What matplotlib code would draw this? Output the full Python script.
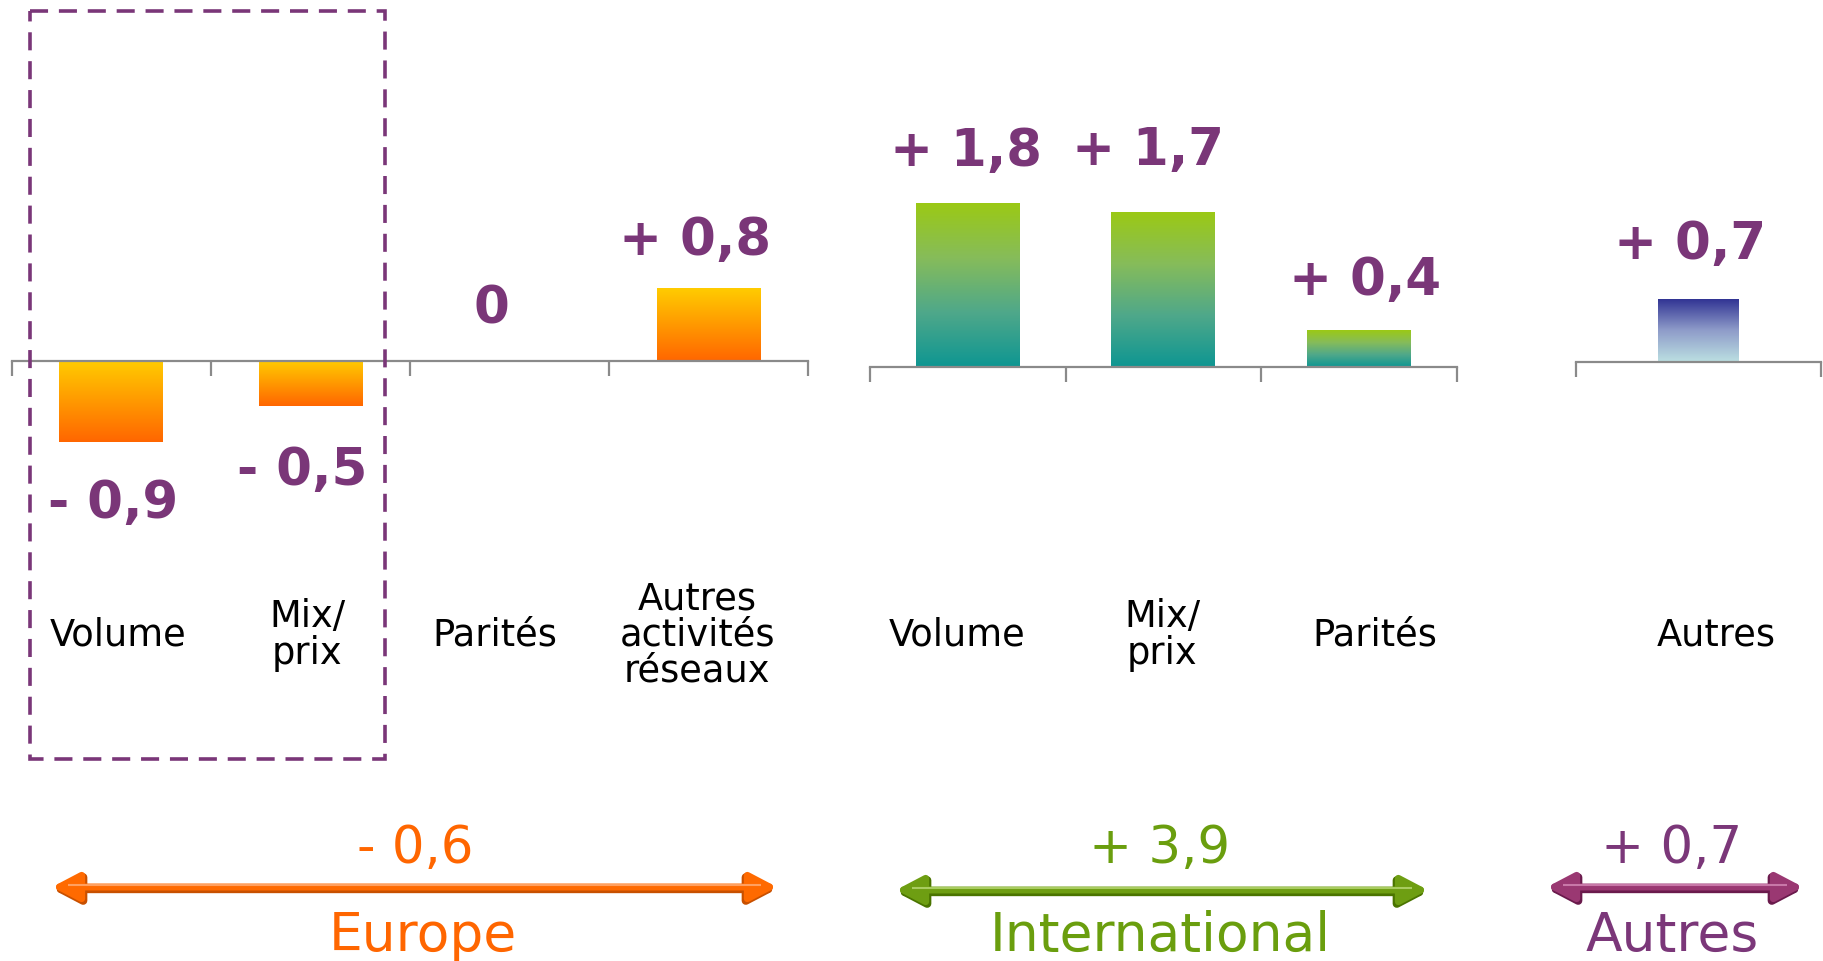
import numpy as np
import matplotlib.pyplot as plt
from matplotlib.colors import LinearSegmentedColormap
from matplotlib.patches import Rectangle, FancyArrowPatch

# Données (variations par zone)
cat_europe = ["Volume", "Mix/\nprix", "Parités", "Autres\nactivités\nréseaux"]
val_europe = [-0.9, -0.5, 0.0, 0.8]
lab_europe = ["- 0,9", "- 0,5", "0", "+ 0,8"]

cat_inter = ["Volume", "Mix/\nprix", "Parités"]
val_inter = [1.8, 1.7, 0.4]
lab_inter = ["+ 1,8", "+ 1,7", "+ 0,4"]

cat_autres = ["Autres"]
val_autres = [0.7]
lab_autres = ["+ 0,7"]

groupes = ["Europe", "International", "Autres"]
totaux = ["- 0,6", "+ 3,9", "+ 0,7"]

# Mise en page (pixels)
W, H = 1824, 962
scale = 90.7  # pixels par unité
violet = "#7A3678"
gris = "#8a8a8a"

grad_orange = ["#FFCC00", "#FF9900", "#FF6600"]
grad_vert = ["#9BC915", "#86BC5A", "#4FA88A", "#0E9692"]
grad_bleu = ["#2E3192", "#8E9BC9", "#BCE0E2"]

fig = plt.figure(figsize=(W / 100, H / 100), dpi=100)


def panneau(left, right, base, cats, vals, labs, largeur, couleurs, off_val, dx_cat):
    ax = fig.add_axes([left / W, 0, (right - left) / W, 1])
    n = len(cats)
    x = np.arange(n)
    bars = ax.bar(x, vals, width=largeur, color="none", edgecolor="none")
    cmap = LinearSegmentedColormap.from_list("g", couleurs)
    grad = np.linspace(0, 1, 256).reshape(-1, 1)
    for b, v in zip(bars, vals):
        if v == 0:
            continue
        x0, y0, w, h = b.get_x(), b.get_y(), b.get_width(), b.get_height()
        im = ax.imshow(grad, cmap=cmap, aspect="auto", origin="upper",
                       extent=[x0, x0 + w, min(y0, y0 + h), max(y0, y0 + h)], zorder=2)
        im.set_clip_path(b)
    # étiquettes de valeur (décalage en pixels)
    for xi, v, t, d in zip(x, vals, labs, off_val):
        ax.annotate(t, (xi, v), xytext=d, textcoords="offset pixels",
                    ha="center", va="center", fontsize=37, fontweight="bold", color=violet)
    for xi, c, d in zip(x, cats, dx_cat):
        ax.text(xi + d, 1 - 635 / H, c, transform=ax.get_xaxis_transform(),
                ha="center", va="center", fontsize=26.5, linespacing=0.97, color="black")
    ax.set_xlim(-0.5, n - 0.5)
    ax.set_ylim(-(H - base) / scale, base / scale)
    for s in ["top", "left", "right"]:
        ax.spines[s].set_visible(False)
    ax.spines["bottom"].set_position(("data", 0))
    ax.spines["bottom"].set_color(gris)
    ax.spines["bottom"].set_linewidth(1.6)
    ax.set_xticks(np.arange(n + 1) - 0.5)
    ax.set_xticklabels([])
    ax.tick_params(axis="x", direction="out", length=11, width=1.6, color=gris)
    ax.set_yticks([])
    ax.patch.set_alpha(0)
    return ax


panneau(11.6, 808.5, 361.8, cat_europe, val_europe, lab_europe, 0.52, grad_orange,
        [(2, -61), (-8, -64), (-18, 52), (-14, 48)], [0.035, -0.017, -0.076, -0.058])
panneau(870, 1456.5, 367.6, cat_inter, val_inter, lab_inter, 0.53, grad_vert,
        [(-2, 52), (-15, 62), (6, 50)], [-0.054, -0.006, 0.083])
panneau(1576, 1821, 363, cat_autres, val_autres, lab_autres, 0.33, grad_bleu,
        [(-8, 55)], [0.071])

# Calque en pixels pour le cadre pointillé, les flèches et les totaux
ov = fig.add_axes([0, 0, 1, 1])
ov.set_xlim(0, W)
ov.set_ylim(H, 0)
ov.axis("off")
ov.patch.set_alpha(0)

ov.add_patch(Rectangle((30, 12), 355, 748, fill=False, ec=violet, lw=2.6,
                       linestyle=(0, (5, 3))))

fleches = [
    (52, 777, 888, "#FF6A00", "#C85000", "#FFA060"),
    (896, 1428, 891, "#6E9E12", "#4A7400", "#A8CC60"),
    (1547, 1803, 888, "#9A3872", "#6A1A4C", "#C878A8"),
]
for x0, x1, y, c, sombre, clair in fleches:
    for dy, col, lw in [(2, sombre, 6), (0, c, 5)]:
        ov.add_patch(FancyArrowPatch((x0, y + dy), (x1, y + dy),
                                     arrowstyle="<|-|>,head_length=0.8,head_width=0.42",
                                     mutation_scale=20, color=col, lw=lw, shrinkA=0, shrinkB=0))
    ov.plot([x0 + 16, x1 - 16], [y - 2, y - 2], color=clair, lw=1.5, solid_capstyle="butt")

couleurs_grp = ["#FF6600", "#6A9E0E", "#7B3779"]
x_grp = [423, 1160, 1672]
x_tot = [415, 1160, 1672]
for xg, xt, g, t, c in zip(x_grp, x_tot, groupes, totaux, couleurs_grp):
    ov.text(xt, 849, t, ha="center", va="center", fontsize=37, color=c)
    ov.text(xg, 936, g, ha="center", va="center", fontsize=38.5, color=c)

fig.savefig("out.png", dpi=100)
